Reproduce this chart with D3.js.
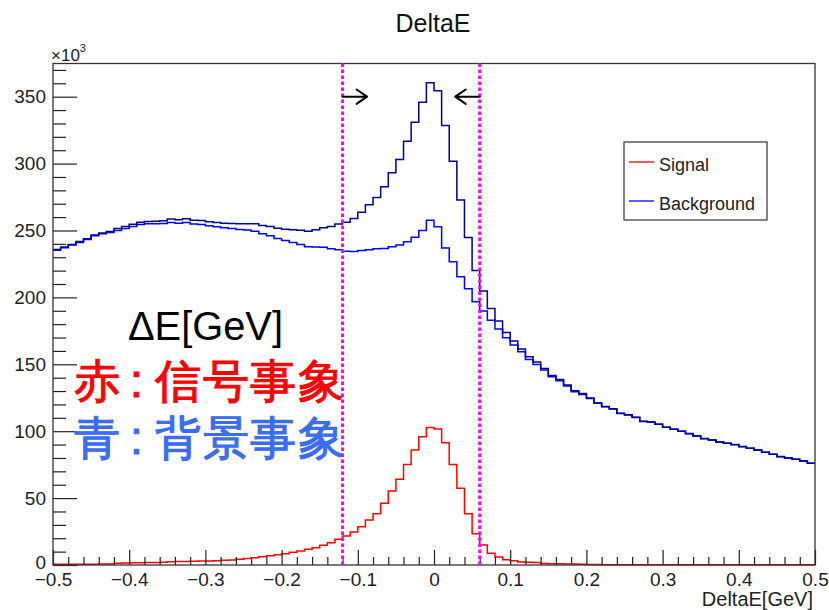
<!DOCTYPE html>
<html>
<head>
<meta charset="utf-8">
<script src="https://cdn.jsdelivr.net/npm/d3@7"></script>
<style>
  html, body { margin: 0; padding: 0; background: #ffffff; }
  svg { display: block; }
  text { font-family: "Liberation Sans", Arial, Helvetica, sans-serif; }
</style>
</head>
<body>
<svg id="chart" width="829" height="610"></svg>
<script>
// ---- Data ----
const xDomain = [-0.5, 0.5];
const nBins = 100;

// Signal (red), units of 10^3 events per bin
const signal = [
  0.5, 0.5, 0.5, 0.6, 0.6, 0.6, 0.7, 0.8, 1.4, 1.5,
  1.6, 1.7, 1.8, 1.9, 2.0, 2.5, 2.6, 2.7, 2.8, 2.9,
  3.0, 3.2, 3.5, 3.8, 4.3, 4.8, 5.5, 6.2, 7.0, 7.7,
  8.5, 9.5, 10.5, 11.7, 12.9, 14.7, 16.7, 19.2, 21.7, 24.7,
  28.6, 33.6, 38.3, 46.1, 55.3, 64.0, 75.2, 85.9, 95.9, 102.8,
  101.6, 91.4, 75.2, 57.3, 38.3, 23.4, 14.9, 8.7, 6.0, 4.0,
  3.1, 2.2, 2.0, 1.8, 1.1, 1.0, 0.9, 0.8, 0.7, 0.6,
  0.3, 0.3, 0.2, 0.2, 0.2, 0.2, 0.2, 0.1, 0.1, 0.1,
  0.1, 0.1, 0.1, 0.1, 0.1, 0.1, 0.1, 0.1, 0.1, 0.1,
  0.1, 0.1, 0.1, 0.1, 0.1, 0.1, 0.1, 0.1, 0.1, 0.1
];

// Background (blue), units of 10^3 events per bin
const background = [
  235.3, 237.1, 239.1, 241.1, 243.3, 246.0, 247.5, 248.5, 250.0, 251.5,
  253.0, 254.5, 255.0, 255.0, 255.2, 256.0, 255.5, 256.0, 254.8, 254.5,
  253.5, 252.8, 252.0, 251.5, 250.8, 250.3, 249.5, 247.5, 246.0, 244.0,
  242.5, 241.1, 239.6, 237.8, 237.6, 237.4, 236.3, 235.6, 234.5, 234.3,
  235.0, 235.6, 236.3, 236.5, 237.8, 239.1, 241.5, 245.0, 250.0, 257.7,
  252.8, 237.0, 226.6, 215.4, 206.4, 196.7, 189.8, 183.0, 176.3, 169.8,
  164.4, 159.3, 153.6, 149.9, 145.7, 140.7, 137.7, 133.7, 129.5, 127.5,
  124.5, 120.8, 118.3, 116.5, 113.3, 112.1, 110.3, 107.3, 106.8, 105.1,
  102.9, 101.4, 99.9, 98.1, 96.4, 94.4, 93.4, 91.9, 90.9, 89.9,
  88.4, 87.2, 85.9, 84.2, 82.7, 80.9, 79.9, 79.0, 77.7, 76.0
];

const cutValues = [-0.12, 0.06];
const yTicksMajor = [0, 50, 100, 150, 200, 250, 300, 350];
const xTicksMajor = [-0.5, -0.4, -0.3, -0.2, -0.1, 0, 0.1, 0.2, 0.3, 0.4, 0.5];
const legendLabels = ["Signal", "Background"];
const titleText = "DeltaE";
const xAxisTitle = "DeltaE[GeV]";
const noteLines = [
  { text: "ΔE[GeV]", color: "#000000" },
  { chars: ["赤", ":", "信", "号", "事", "象"], color: "#ff0000" },
  { chars: ["青", ":", "背", "景", "事", "象"], color: "#3a6cf4" }
];

// ---- Layout ----
const plot = { left: 53, right: 815, top: 63.5, bottom: 565 };

const svg = d3.select("#chart");

const x = d3.scaleLinear().domain(xDomain).range([plot.left, plot.right]);
const y = d3.scaleLinear().domain([0, 374.8]).range([plot.bottom, plot.top]);

// total = signal + background (stacked)
const total = background.map((b, i) => b + signal[i]);

const binW = (xDomain[1] - xDomain[0]) / nBins;
function stepPoints(vals) {
  const pts = vals.map((v, i) => [xDomain[0] + i * binW, v]);
  pts.push([xDomain[1], vals[vals.length - 1]]);
  return pts;
}
const line = d3.line()
  .x(d => x(d[0]))
  .y(d => y(d[1]))
  .curve(d3.curveStepAfter);

// Title
svg.append("text")
  .attr("x", 433).attr("y", 32)
  .attr("text-anchor", "middle")
  .attr("font-size", 25)
  .attr("fill", "#111")
  .text(titleText);

// Histograms
const gPlot = svg.append("g");
gPlot.append("path").datum(stepPoints(background))
  .attr("d", line).attr("fill", "none")
  .attr("stroke", "#0000ff").attr("stroke-width", 1.5);
gPlot.append("path").datum(stepPoints(total))
  .attr("d", line).attr("fill", "none")
  .attr("stroke", "#00008f").attr("stroke-width", 1.5);
gPlot.append("path").datum(stepPoints(signal))
  .attr("d", line).attr("fill", "none")
  .attr("stroke", "#ff0000").attr("stroke-width", 1.5);

// Axes: Y
const yMajor = d3.axisLeft(y).tickValues(yTicksMajor)
  .tickSize(-24).tickPadding(7).tickFormat(d3.format("d"));
const gy = svg.append("g").attr("transform", `translate(${plot.left},0)`).call(yMajor);
const yMinorVals = d3.range(10, 375, 10).filter(v => v % 50 !== 0);
const yMinor = d3.axisLeft(y).tickValues(yMinorVals).tickSize(-13).tickFormat("");
const gy2 = svg.append("g").attr("transform", `translate(${plot.left},0)`).call(yMinor);

// Axes: X
const xMajor = d3.axisBottom(x).tickValues(xTicksMajor)
  .tickSize(-15).tickPadding(7.5).tickFormat(d => d === 0 ? "0" : d3.format(".1f")(d));
const gx = svg.append("g").attr("transform", `translate(0,${plot.bottom})`).call(xMajor);
const xMinorVals = d3.range(-0.48, 0.5, 0.02).map(v => +v.toFixed(2))
  .filter(v => Math.abs(Math.round(v * 10) - v * 10) > 1e-6);
const xMinor = d3.axisBottom(x).tickValues(xMinorVals).tickSize(-8).tickFormat("");
const gx2 = svg.append("g").attr("transform", `translate(0,${plot.bottom})`).call(xMinor);

[gy, gy2, gx, gx2].forEach(g => {
  g.select(".domain").remove();
  g.selectAll(".tick line").attr("stroke", "#222").attr("stroke-width", 1.2);
  g.selectAll(".tick text").attr("fill", "#222").attr("font-size", 19)
    .attr("font-family", "Liberation Sans, Arial, sans-serif");
});
// the "0" label of the y axis sits just above the x labels
gy.selectAll(".tick").filter(d => d === 0).select("text").attr("dy", "0.18em");

// Frame
svg.append("rect")
  .attr("x", plot.left).attr("y", plot.top)
  .attr("width", plot.right - plot.left).attr("height", plot.bottom - plot.top)
  .attr("fill", "none").attr("stroke", "#333").attr("stroke-width", 1.3);

// x10^3 label
const expo = svg.append("text").attr("x", 51).attr("y", 61).attr("font-size", 17).attr("fill", "#222");
expo.append("tspan").text("×10");
expo.append("tspan").attr("font-size", 11).attr("dy", -9).text("3");

// X axis title
svg.append("text")
  .attr("x", 813).attr("y", 606)
  .attr("text-anchor", "end")
  .attr("font-size", 20)
  .attr("fill", "#222")
  .text(xAxisTitle);

// Cut lines
svg.selectAll("line.cut").data(cutValues).enter().append("line")
  .attr("class", "cut")
  .attr("x1", d => x(d)).attr("x2", d => x(d))
  .attr("y1", plot.top).attr("y2", plot.bottom)
  .attr("stroke", "#ff00ff").attr("stroke-width", 3)
  .attr("stroke-dasharray", "3.5,2.5");

// Arrows pointing inward from each cut
const arrowY = y(350);
cutValues.forEach((c, i) => {
  const dir = i === 0 ? 1 : -1;
  const x0 = x(c);
  const tip = x0 + dir * 24.5;
  const back = tip - dir * 10.5;
  svg.append("path")
    .attr("d", `M${x0},${arrowY}L${tip},${arrowY}M${back},${arrowY - 7.2}L${tip},${arrowY}L${back},${arrowY + 7.2}`)
    .attr("fill", "none").attr("stroke", "#000").attr("stroke-width", 2)
    .attr("stroke-linecap", "round").attr("stroke-linejoin", "round");
});

// Legend
const lg = svg.append("g");
lg.append("rect").attr("x", 624).attr("y", 142).attr("width", 143).attr("height", 78)
  .attr("fill", "#fff").attr("stroke", "#333").attr("stroke-width", 1.2);
const legendColors = ["#ff0000", "#0000ff"];
legendLabels.forEach((lab, i) => {
  const ly = 162 + i * 39;
  lg.append("line").attr("x1", 629).attr("x2", 654).attr("y1", ly).attr("y2", ly)
    .attr("stroke", legendColors[i]).attr("stroke-width", 1.3);
  lg.append("text").attr("x", 659).attr("y", ly + 8.5).attr("font-size", 18)
    .attr("fill", "#222").text(lab);
});

// Annotations
svg.append("text")
  .attr("x", 128).attr("y", 340)
  .attr("font-family", "Lato, 'Open Sans', sans-serif")
  .attr("font-size", 41)
  .attr("textLength", 155).attr("lengthAdjust", "spacingAndGlyphs")
  .attr("fill", noteLines[0].color)
  .text(noteLines[0].text);

const charX = [74, 130, 155, 202.5, 250, 297.5];
[noteLines[1], noteLines[2]].forEach((ln, li) => {
  const t = svg.append("text")
    .attr("y", 396.5 + li * 57)
    .attr("font-family", "'Noto Sans CJK JP', 'Noto Sans CJK SC', sans-serif")
    .attr("font-size", 46)
    .attr("font-weight", 400)
    .attr("fill", ln.color)
    .attr("stroke", ln.color)
    .attr("stroke-width", 1.1)
    .attr("stroke-linejoin", "round");
  ln.chars.forEach((ch, ci) => {
    t.append("tspan").attr("x", charX[ci]).text(ch);
  });
});
</script>
</body>
</html>
